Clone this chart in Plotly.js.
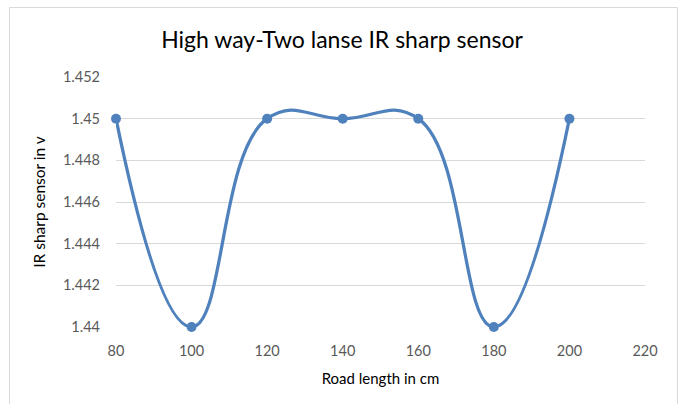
<!DOCTYPE html>
<html>
<head>
<meta charset="utf-8">
<script src="https://cdn.plot.ly/plotly-3.0.1.min.js"></script>
<style>html,body{margin:0;padding:0;background:#fff;}#chart{width:684px;height:404px;}</style>
</head>
<body>
<div id="chart"></div>
<script>
const roadLength = [80, 100, 120, 140, 160, 180, 200];
const sensorValues = [1.45, 1.44, 1.45, 1.45, 1.45, 1.44, 1.45];
const xTicks = [80, 100, 120, 140, 160, 180, 200, 220];
const yTicks = [1.44, 1.442, 1.444, 1.446, 1.448, 1.45, 1.452];
const yTickLabels = ['1.44', '1.442', '1.444', '1.446', '1.448', '1.45', '1.452'];

const trace = {
  x: roadLength,
  y: sensorValues,
  type: 'scatter',
  mode: 'lines+markers',
  cliponaxis: false,
  line: {color: '#4F81BD', width: 3.25, shape: 'spline', smoothing: 1.3},
  marker: {color: '#4F81BD', size: 10},
  hoverinfo: 'none'
};

const fam = 'Lato, "Liberation Sans", sans-serif';
const tickFont = {family: fam, size: 14.5, color: '#595959'};
const layout = {
  width: 684, height: 404,
  margin: {l: 116, r: 39, t: 77, b: 77},
  paper_bgcolor: '#fff', plot_bgcolor: '#fff',
  showlegend: false,
  title: {text: 'High way-Two lanse IR sharp sensor', x: 0.5, xanchor: 'center', y: 0.9, yanchor: 'middle',
          font: {family: fam, size: 23, color: '#000'}},
  xaxis: {
    range: [80, 220], tickvals: xTicks, ticktext: xTicks.map(String),
    showgrid: false, zeroline: false, showline: false, ticks: '',
    tickfont: tickFont, ticklabelstandoff: 13,
    title: {text: 'Road length in cm', font: {family: fam, size: 15, color: '#000'}, standoff: 15}
  },
  yaxis: {
    range: [1.44, 1.452], tickvals: yTicks, ticktext: yTickLabels,
    showgrid: true, gridcolor: '#D9D9D9', gridwidth: 1, zeroline: false, showline: false, ticks: '',
    tickfont: tickFont, ticklabelstandoff: 15,
    title: {text: 'IR sharp sensor in v', font: {family: fam, size: 15.5, color: '#000'}, standoff: 13}
  },
  shapes: [
    {type: 'rect', xref: 'paper', yref: 'paper',
     x0: (9.5 - 116) / 529, x1: (677.5 - 116) / 529,
     y0: (327 - 410) / 250, y1: (327 - 7.5) / 250,
     line: {color: '#D9D9D9', width: 1}, fillcolor: 'rgba(0,0,0,0)', layer: 'below'}
  ]
};

Plotly.newPlot('chart', [trace], layout, {displayModeBar: false, staticPlot: true});
</script>
</body>
</html>
